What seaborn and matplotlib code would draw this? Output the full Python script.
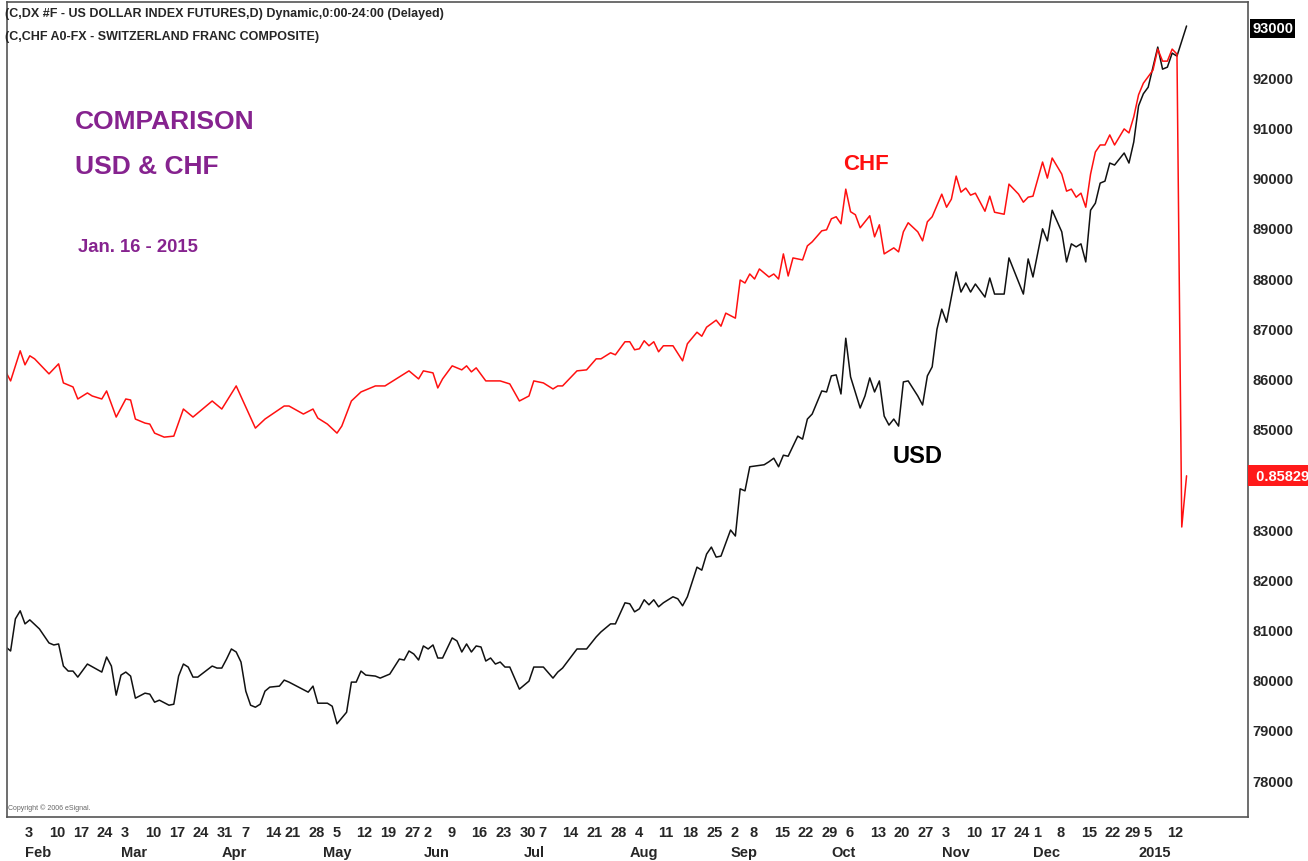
import pandas as pd
import matplotlib
matplotlib.use('Agg')
import matplotlib.pyplot as plt
import seaborn as sns

# Trading calendar of the chart, session 0 = 2014-01-28
holidays = ['2014-04-18', '2014-05-26', '2014-07-04', '2014-09-01',
            '2014-11-27', '2014-12-25', '2015-01-01']
sessions = pd.bdate_range('2014-01-28', '2015-01-16', freq='C', holidays=holidays)

# US Dollar Index futures (axis units, 93000 = 93.000)
usd_session = [0, 1, 2, 3, 4, 5, 7, 9, 10, 11, 12, 13, 14, 15, 17, 20, 21, 22, 23, 24,
               25, 26, 27, 29, 30, 31, 32, 34, 35, 36, 37, 38, 39, 40, 43, 44, 45, 46, 47, 48,
               49, 50, 51, 52, 53, 54, 55, 57, 58, 59, 63, 64, 65, 67, 68, 69, 71, 72, 73, 74,
               75, 77, 78, 80, 82, 83, 84, 85, 86, 87, 88, 89, 90, 91, 93, 94, 95, 96, 97, 98,
               99, 100, 101, 102, 103, 104, 105, 107, 109, 110, 112, 114, 115, 116, 119, 121, 123, 124, 126, 127,
               129, 130, 131, 132, 133, 134, 135, 136, 137, 139, 140, 141, 142, 144, 145, 146, 147, 148, 149, 151,
               152, 153, 154, 155, 158, 159, 160, 161, 162, 163, 164, 165, 166, 167, 168, 170, 171, 172, 173, 174,
               175, 176, 178, 179, 180, 181, 182, 183, 184, 185, 186, 187, 188, 190, 191, 192, 193, 194, 195, 196,
               198, 199, 200, 201, 202, 204, 205, 206, 208, 209, 212, 213, 214, 216, 217, 218, 220, 221, 222, 223,
               224, 225, 226, 227, 228, 229, 230, 231, 233, 234, 235, 236, 237, 238, 240, 241, 242, 243, 244, 245,
               246]
usd_value = [80650, 80570, 81210, 81370, 81110, 81190, 81010, 80730, 80690, 80710, 80270, 80170, 80170, 80050, 80310, 80150, 80450, 80270, 79690, 80090,
             80150, 80070, 79630, 79730, 79710, 79550, 79590, 79490, 79510, 80070, 80310, 80250, 80050, 80050, 80270, 80230, 80230, 80410, 80610, 80550,
             80350, 79770, 79490, 79450, 79510, 79770, 79850, 79870, 79990, 79950, 79750, 79870, 79530, 79530, 79470, 79120, 79350, 79950, 79950, 80170,
             80090, 80070, 80030, 80110, 80410, 80390, 80570, 80510, 80390, 80670, 80610, 80690, 80430, 80430, 80830, 80770, 80550, 80710, 80550, 80670,
             80650, 80370, 80430, 80310, 80350, 80250, 80250, 79810, 79970, 80250, 80250, 80030, 80150, 80230, 80610, 80610, 80850, 80950, 81110, 81110,
             81530, 81510, 81350, 81410, 81590, 81490, 81590, 81450, 81530, 81650, 81610, 81470, 81650, 82240, 82180, 82500, 82640, 82440, 82460, 82980,
             82860, 83800, 83760, 84240, 84280, 84340, 84410, 84240, 84470, 84450, 84650, 84850, 84790, 85190, 85290, 85750, 85730, 86050, 86070, 85690,
             86800, 86030, 85410, 85650, 86010, 85730, 85950, 85250, 85070, 85190, 85050, 85930, 85950, 85650, 85470, 86050, 86230, 86980, 87380, 87120,
             88120, 87720, 87900, 87720, 87880, 87620, 88000, 87680, 87680, 88400, 87680, 88380, 88020, 88980, 88740, 89350, 88920, 88320, 88680, 88620,
             88680, 88320, 89350, 89490, 89890, 89930, 90290, 90250, 90490, 90290, 90710, 91430, 91670, 91800, 92600, 92160, 92200, 92480, 92420, 92720,
             93020]

# Swiss franc composite, overlaid on the same price scale
chf_session = [0, 1, 3, 4, 5, 6, 9, 11, 12, 14, 15, 17, 18, 20, 21, 23, 25, 26, 27, 29,
               30, 31, 33, 35, 37, 39, 43, 45, 48, 52, 54, 58, 59, 62, 64, 65, 67, 69, 70, 72,
               74, 77, 79, 82, 84, 86, 87, 89, 90, 91, 93, 95, 96, 97, 98, 100, 103, 105, 107, 109,
               110, 112, 114, 115, 116, 119, 121, 123, 124, 126, 127, 129, 130, 131, 132, 133, 134, 135, 136, 137,
               139, 141, 142, 144, 145, 146, 148, 149, 150, 152, 153, 154, 155, 156, 157, 159, 160, 161, 162, 163,
               164, 166, 167, 168, 170, 171, 172, 173, 174, 175, 176, 177, 178, 180, 181, 182, 183, 185, 186, 187,
               188, 190, 191, 192, 193, 195, 196, 197, 198, 199, 200, 201, 202, 204, 205, 206, 208, 209, 211, 212,
               213, 214, 216, 217, 218, 220, 221, 222, 223, 224, 225, 226, 227, 228, 229, 230, 231, 233, 234, 235,
               236, 237, 239, 240, 241, 242, 243, 244, 245, 246]
chf_value = [86130, 85950, 86550, 86270, 86450, 86390, 86090, 86290, 85910, 85830, 85590, 85710, 85650, 85590, 85750, 85230, 85590, 85570, 85190, 85110,
             85090, 84910, 84830, 84850, 85390, 85230, 85550, 85390, 85850, 85010, 85190, 85450, 85450, 85290, 85390, 85210, 85090, 84910, 85050, 85550,
             85730, 85850, 85850, 86030, 86150, 85990, 86150, 86110, 85810, 85990, 86250, 86170, 86250, 86130, 86210, 85950, 85950, 85890, 85550, 85650,
             85950, 85910, 85790, 85850, 85850, 86150, 86170, 86390, 86390, 86510, 86470, 86730, 86730, 86570, 86590, 86750, 86650, 86730, 86530, 86650,
             86650, 86350, 86690, 86920, 86840, 87020, 87160, 87040, 87300, 87200, 87960, 87900, 88080, 87980, 88180, 88020, 88080, 87980, 88480, 88040,
             88400, 88360, 88640, 88720, 88940, 88960, 89180, 89220, 89080, 89770, 89320, 89260, 89000, 89240, 88820, 89060, 88480, 88600, 88520, 88920,
             89100, 88920, 88740, 89120, 89220, 89670, 89410, 89570, 90030, 89710, 89790, 89650, 89690, 89330, 89630, 89310, 89270, 89870, 89670, 89510,
             89610, 89630, 90310, 89990, 90390, 90070, 89730, 89770, 89610, 89690, 89410, 90070, 90510, 90650, 90650, 90850, 90650, 90970, 90890, 91210,
             91650, 91880, 92140, 92560, 92320, 92320, 92560, 92460, 83040, 84060]

price_ticks = list(range(78000, 93001, 1000))
chf_last_label = '0.85829'

sns.set_style('white')
plt.rcParams['font.family'] = ['Liberation Sans Narrow', 'Liberation Sans', 'DejaVu Sans']

W, H = 1308, 862
fig = plt.figure(figsize=(W / 100, H / 100), dpi=100)
ax = fig.add_axes([7 / W, 1 - 818 / H, (1248 - 7) / W, (818 - 3) / H])

sns.lineplot(x=usd_session, y=usd_value, color='#111111', lw=1.1, ax=ax, estimator=None)
sns.lineplot(x=chf_session, y=chf_value, color='#ff1010', lw=1.1, ax=ax, estimator=None)

ax.set_xlim(0.25, 258.8)
ax.set_ylim(77263, 93498)
ax.set_xlabel('')
ax.set_ylabel('')

# price scale on the right
ax.yaxis.tick_right()
ax.set_yticks(price_ticks)
ax.set_yticklabels(['' if v == 84000 else str(v) for v in price_ticks])
ax.tick_params(axis='y', length=0, pad=3, labelsize=10.5)
for lab in ax.get_yticklabels():
    lab.set_fontweight('bold')
    if lab.get_text() == '93000':
        lab.set_color('white')
        lab.set_bbox(dict(facecolor='black', edgecolor='none', pad=1.5))

ax.text(1.003, (chf_value[-1] - 77263) / (93498 - 77263), ' ' + chf_last_label,
        transform=ax.transAxes, ha='left', va='center', color='white',
        fontsize=10.5, fontweight='bold',
        bbox=dict(facecolor='#ff1a1a', edgecolor='none', pad=2.5))

# date scale: weekly day numbers and month names
cal = pd.DataFrame({'date': sessions, 'idx': range(len(sessions))})
cal = cal[cal['date'] >= '2014-02-01']
iso = cal['date'].dt.isocalendar()
week_key = iso['year'].astype(int) * 100 + iso['week'].astype(int)
weeks = cal.groupby(week_key.values).first()
months = cal.groupby(cal['date'].dt.to_period('M')).first()
month_names = [d.strftime('%b') if d.year == 2014 else str(d.year) for d in months['date']]

ax.xaxis.remove_overlapping_locs = False
ax.set_xticks(weeks['idx'].tolist())
ax.set_xticklabels([str(d.day) for d in weeks['date']])
ax.set_xticks(months['idx'].tolist(), minor=True)
ax.set_xticklabels(month_names, minor=True)
ax.tick_params(axis='x', which='both', length=0, labelsize=10.5)
ax.tick_params(axis='x', which='major', pad=6)
ax.tick_params(axis='x', which='minor', pad=20)
for lab in ax.get_xticklabels() + ax.get_xticklabels(minor=True):
    lab.set_ha('left')
    lab.set_fontweight('bold')

for side in ['left', 'right', 'top', 'bottom']:
    ax.spines[side].set_color('#555555')
    ax.spines[side].set_linewidth(1.2)

# header and annotations
fig.text(5 / W, 1 - 14 / H, '(C,DX #F - US DOLLAR INDEX FUTURES,D) Dynamic,0:00-24:00 (Delayed)',
         fontsize=9, fontweight='bold', va='center', ha='left')
fig.text(5 / W, 1 - 37 / H, '(C,CHF A0-FX - SWITZERLAND FRANC COMPOSITE)',
         fontsize=9, fontweight='bold', va='center', ha='left')
purple = '#86238f'
fig.text(75 / W, 1 - 122 / H, 'COMPARISON', color=purple, fontsize=19,
         fontweight='bold', va='center', ha='left')
fig.text(75 / W, 1 - 167 / H, 'USD & CHF', color=purple, fontsize=19,
         fontweight='bold', va='center', ha='left')
fig.text(78 / W, 1 - 248 / H, 'Jan. 16 - 2015', color=purple, fontsize=13.3,
         fontweight='bold', va='center', ha='left')
fig.text(843 / W, 1 - 164 / H, 'CHF', color='#ff1010', fontsize=16,
         fontweight='bold', va='center', ha='left')
fig.text(893 / W, 1 - 457 / H, 'USD', color='black', fontsize=17,
         fontweight='bold', va='center', ha='left')
fig.text(8 / W, 1 - 808 / H, 'Copyright \u00a9 2006 eSignal.', color='#666666',
         fontsize=5, va='center', ha='left')

fig.savefig('out.png', dpi=100)
